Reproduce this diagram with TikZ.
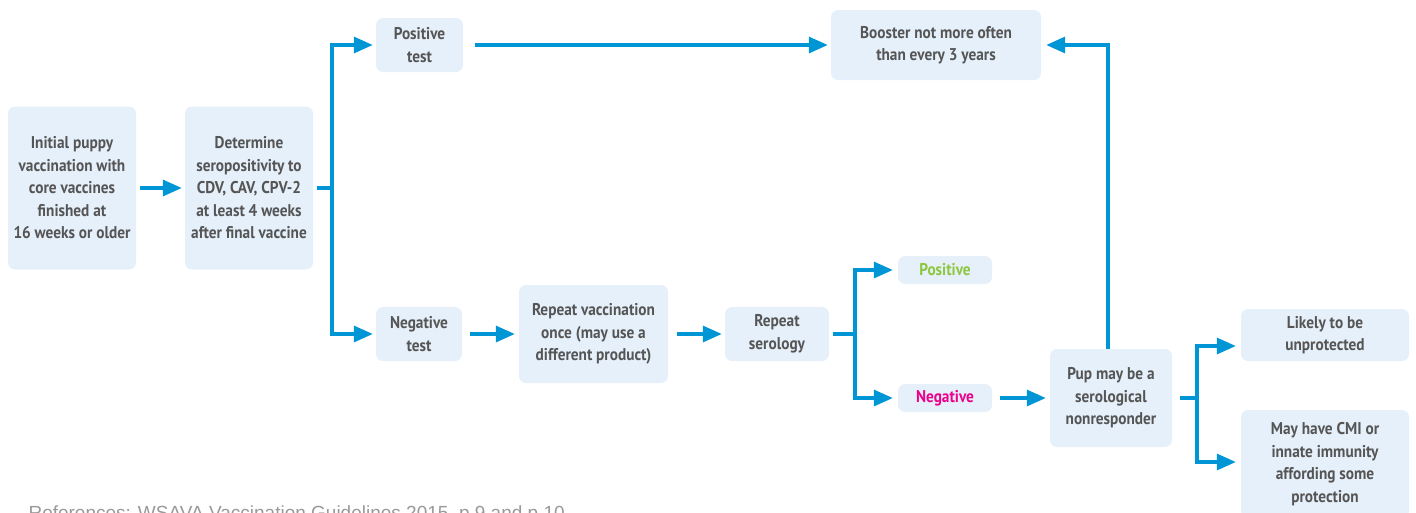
\documentclass[tikz,border=0pt]{standalone}
\usepackage{fontspec}
\setmainfont{PT Sans}[FakeStretch=0.9, BoldFont={PT Sans Bold}, BoldFeatures={FakeStretch=0.9}]
\newfontfamily\reffont{Liberation Sans}
\usetikzlibrary{arrows.meta}
\definecolor{boxblue}{RGB}{230,240,250}
\definecolor{arrblue}{RGB}{0,150,214}
\definecolor{txtgray}{RGB}{85,85,85}
\definecolor{posgreen}{RGB}{141,198,63}
\definecolor{negpink}{RGB}{236,0,140}
\tikzset{
  stepbox/.style={fill=boxblue, rounded corners=7pt, inner sep=0pt, align=center,
    font=\fontsize{17}{22.5}\selectfont\bfseries, text=txtgray},
  ln/.style={draw=arrblue, line width=3.3pt},
  arr/.style={ln, -{Triangle[length=19pt,width=16pt]}}
}
\begin{document}
\begin{tikzpicture}[x=1pt,y=-1pt]
        \useasboundingbox (0,0) rectangle (1416,512);
        \node[stepbox, minimum width=128pt, minimum height=163pt] (init) at (72,188)
          {Initial puppy\\vaccination with\\core vaccines\\finished at\\16 weeks or older};
        \node[stepbox, minimum width=128pt, minimum height=163pt] (sero) at (249,188)
          {Determine\\seropositivity to\\CDV, CAV, CPV-2\\at least 4 weeks\\after final vaccine};
        \node[stepbox, minimum width=87pt, minimum height=54pt] (postest) at (419.5,45) {Positive\\test};
        \node[stepbox, minimum width=210pt, minimum height=70pt] (booster) at (936,45)
          {Booster not more often\\than every 3 years};
        \node[stepbox, minimum width=86pt, minimum height=54pt] (negtest) at (419,334) {Negative\\test};
        \node[stepbox, minimum width=149pt, minimum height=98pt] (revacc) at (593.5,334)
          {Repeat vaccination\\once (may use a\\different product)};
        \node[stepbox, minimum width=104pt, minimum height=54pt] (reser) at (777,334) {Repeat\\serology};
        \node[stepbox, minimum width=94pt, minimum height=28pt, text=posgreen] (pos) at (945,270) {Positive};
        \node[stepbox, minimum width=94pt, minimum height=28pt, text=negpink] (neg) at (945,398) {Negative};
        \node[stepbox, minimum width=122pt, minimum height=98pt] (nonresp) at (1111,398)
          {Pup may be a\\serological\\nonresponder};
        \node[stepbox, minimum width=168pt, minimum height=52pt] (unprot) at (1325,335) {Likely to be\\unprotected};
        \node[stepbox, minimum width=168pt, minimum height=108pt] (cmi) at (1325,464)
          {May have CMI or\\innate immunity\\affording some\\protection};
        \node[anchor=base west, font=\reffont\fontsize{19}{19}\selectfont, text=black!40] (refs) at (25,519)
          {References: WSAVA Vaccination Guidelines 2015, p.9 and p.10};
        \coordinate (split1) at (332,188);
        \coordinate (split2) at (855,334);
        \coordinate (split3) at (1197,398);
        \draw[arr, shorten <=4pt, shorten >=3pt] (init) -- (sero);
        \draw[ln, shorten <=4pt] (sero.east) -- (split1);
        \draw[arr, shorten >=3pt] (split1) |- (postest);
        \draw[arr, shorten >=3pt] (split1) |- (negtest);
        \draw[arr, shorten <=12pt, shorten >=3pt] (postest) -- (booster);
        \draw[arr, shorten <=8pt, shorten >=4pt] (negtest) -- (revacc);
        \draw[arr, shorten <=9pt, shorten >=3pt] (revacc) -- (reser);
        \draw[ln, shorten <=4pt] (reser.east) -- (split2);
        \draw[arr, shorten >=5pt] (split2) |- (pos);
        \draw[arr, shorten >=5pt] (split2) |- (neg);
        \draw[arr, shorten <=8pt, shorten >=4pt] (neg) -- (nonresp);
        \draw[arr, shorten >=5pt] ([xshift=-3pt]nonresp.north) |- (booster);
        \draw[ln, shorten <=8pt] (nonresp.east) -- (split3);
        \draw[arr, shorten >=5pt] (split3) |- ([yshift=-11pt]unprot.west);
        \draw[arr, shorten >=5pt] (split3) |- ([yshift=2pt]cmi.west);
\end{tikzpicture}
\end{document}
